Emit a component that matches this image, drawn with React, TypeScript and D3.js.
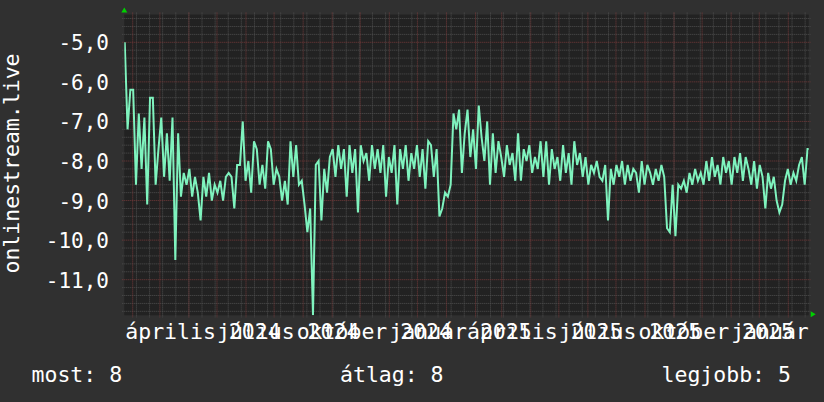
import React from "react";
import * as d3 from "d3";

// ---- data ----
const START = Date.UTC(2024, 0, 23, 12);
const STEP_DAYS = 3;
const values: number[] = [
  -5.0, -7.2, -6.2, -6.2, -8.6, -6.8, -8.2, -6.9, -9.1, -6.4,
  -6.4, -8.6, -7.7, -6.9, -8.4, -7.3, -8.5, -6.9, -10.5, -7.3,
  -8.9, -8.3, -8.6, -8.2, -8.9, -8.4, -8.8, -9.5, -8.4, -8.9,
  -8.3, -9.0, -8.6, -8.8, -8.5, -9.0, -8.4, -8.3, -8.4, -9.2,
  -8.1, -8.1, -7.0, -8.5, -8.0, -8.8, -7.5, -7.7, -8.6, -8.1,
  -8.7, -7.5, -7.7, -8.6, -8.2, -8.4, -9.0, -8.5, -9.1, -7.5,
  -8.4, -7.6, -8.6, -8.5, -9.1, -9.8, -9.2, -11.9, -8.1, -8.0,
  -9.5, -8.2, -8.8, -7.9, -7.7, -8.4, -7.6, -8.2, -7.7, -8.9,
  -7.6, -8.3, -7.7, -9.3, -7.6, -8.0, -7.8, -8.5, -7.6, -8.2,
  -7.7, -8.3, -7.6, -8.9, -7.9, -8.3, -7.6, -9.1, -7.7, -8.2,
  -7.6, -8.5, -7.8, -8.2, -7.6, -8.4, -7.7, -8.7, -7.5, -7.6,
  -8.4, -7.7, -9.4, -9.2, -8.8, -8.9, -8.6, -6.8, -7.2, -6.7,
  -8.3, -7.3, -6.7, -7.9, -7.2, -8.2, -6.6, -7.4, -8.0, -7.0,
  -8.6, -7.3, -8.3, -7.5, -7.9, -8.4, -7.6, -8.1, -7.8, -8.5,
  -7.3, -8.5, -7.7, -8.0, -7.6, -8.3, -7.9, -8.2, -7.5, -8.4,
  -7.5, -8.6, -7.7, -8.2, -7.9, -8.5, -7.6, -8.3, -7.8, -8.6,
  -7.5, -8.1, -7.8, -8.4, -7.9, -8.6, -8.1, -8.3, -8.0, -8.4,
  -8.5, -8.1, -9.5, -8.2, -8.6, -8.1, -8.4, -8.0, -8.6, -8.1,
  -8.5, -8.2, -8.3, -8.8, -8.0, -8.6, -8.1, -8.3, -8.6, -8.2,
  -8.5, -8.1, -8.4, -9.7, -9.8, -8.6, -9.9, -8.6, -8.7, -8.5,
  -8.8, -8.3, -8.6, -8.2, -8.5, -8.3, -8.6, -8.0, -8.5, -7.9,
  -8.4, -8.1, -8.6, -7.9, -8.3, -8.0, -8.6, -7.9, -8.3, -7.8,
  -8.5, -7.9, -8.2, -8.6, -8.0, -8.7, -8.1, -8.4, -9.2, -8.3,
  -8.7, -8.4, -9.0, -9.3, -9.1, -8.5, -8.2, -8.6, -8.3, -8.5,
  -8.1, -7.9, -8.6, -7.7, -7.7,
];
const yTicks = [-5, -6, -7, -8, -9, -10, -11];
const yTickLabels = ["-5,0", "-6,0", "-7,0", "-8,0", "-9,0", "-10,0", "-11,0"];
const labelMonths = [
  "április 2024", "július 2024", "október 2024", "január 2025",
  "április 2025", "július 2025", "október 2025", "január 2026",
];
const labelDates = [
  Date.UTC(2024, 3, 1), Date.UTC(2024, 6, 1), Date.UTC(2024, 9, 1), Date.UTC(2025, 0, 1),
  Date.UTC(2025, 3, 1), Date.UTC(2025, 6, 1), Date.UTC(2025, 9, 1), Date.UTC(2026, 0, 1),
];
const yTitle = "onlinestream.live";
const legend = ["most: 8", "átlag: 8", "legjobb: 5"];

const DAY = 86400000;

export default function App() {
  const W = 824, H = 402;
  const X0 = 124.3, X1 = 808.7, Y0 = 315.3, Y1 = 14.6;
  const x = d3.scaleUtc()
    .domain([new Date(Date.UTC(2024, 1, 1)), new Date(Date.UTC(2026, 0, 1))])
    .range([132.7, 788.3]);
  const y = d3.scaleLinear().domain([-11.9, -4.3]).range([Y0, Y1]);

  const pts = values.map((v, i) => ({ t: new Date(START + i * STEP_DAYS * DAY), v }));
  const line = d3.line<{ t: Date; v: number }>().x(d => x(d.t)).y(d => y(d.v));

  const tStart = x.invert(X0), tEnd = x.invert(X1);
  const months = d3.utcMonth.range(tStart, tEnd);
  // two-weekly minor grid on Mondays
  const anchor = Date.UTC(2025, 9, 13);
  const minorX: number[] = [];
  for (let t = anchor; t > tStart.getTime(); t -= 14 * DAY) minorX.push(x(new Date(t)));
  for (let t = anchor + 14 * DAY; t < tEnd.getTime(); t += 14 * DAY) minorX.push(x(new Date(t)));

  const minorY: number[] = [];
  for (let k = -59; k <= -22; k++) {
    const v = k / 5;
    if (Math.abs(v - Math.round(v)) > 1e-6) minorY.push(y(v));
  }

  const font = "'DejaVu Sans Mono', monospace";
  const minorColor = "#505050";
  const majorColor = "#763a3a";

  return (
    <svg width={W} height={H} style={{ display: "block", position: "absolute", left: 0, top: 0 }}>
      <defs>
        <clipPath id="plotclip">
          <rect x={X0} y={Y1} width={X1 - X0} height={Y0 - Y1} />
        </clipPath>
        <clipPath id="labelclip">
          <rect x={0} y={300} width={813} height={60} />
        </clipPath>
      </defs>
      <rect x={0} y={0} width={W} height={H} fill="#303030" />
      <rect x={X0} y={Y1} width={X1 - X0} height={Y0 - Y1} fill="#222222" />
      {minorY.map((yy, i) => (
        <line key={"hy" + i} x1={X0 - 2} x2={X1 + 2} y1={yy} y2={yy} stroke={minorColor} strokeWidth={1} strokeDasharray="1,1" />
      ))}
      {minorX.map((xx, i) => (
        <line key={"mx" + i} x1={xx} x2={xx} y1={Y1 - 2} y2={Y0 + 2} stroke={minorColor} strokeWidth={1} strokeDasharray="1,1" />
      ))}
      {months.map((m, i) => (
        <line key={"Mx" + i} x1={x(m)} x2={x(m)} y1={Y1 - 2} y2={Y0 + 2} stroke={majorColor} strokeWidth={1} strokeDasharray="1,1" />
      ))}
      {yTicks.map((v, i) => (
        <line key={"My" + i} x1={X0 - 2} x2={X1 + 2} y1={y(v)} y2={y(v)} stroke={majorColor} strokeWidth={1} strokeDasharray="1,1" />
      ))}
      <path d={line(pts) || ""} fill="none" stroke="#7ff3be" strokeWidth={2} strokeLinejoin="miter" clipPath="url(#plotclip)" />
      {/* arrows */}
      <polygon points={`${X0 - 3},${Y1 - 2} ${X0 + 3},${Y1 - 2} ${X0},${Y1 - 7}`} fill="#00d000" />
      <polygon points={`${X1 + 2},${Y0 - 4} ${X1 + 2},${Y0 + 2} ${X1 + 7},${Y0 - 1}`} fill="#00d000" />
      {yTicks.map((v, i) => (
        <text key={"yl" + i} x={109} y={y(v) + 8} textAnchor="end" fill="#ffffff" fontFamily={font} fontSize={21}>
          {yTickLabels[i]}
        </text>
      ))}
      <g clipPath="url(#labelclip)">
        {labelDates.map((t, i) => (
          <text key={"xl" + i} x={x(new Date(t + 15 * DAY))} y={338.5} textAnchor="middle" fill="#ffffff" fontFamily={font} fontSize={21.5}>
            {labelMonths[i]}
          </text>
        ))}
      </g>
      <text transform={`translate(18.5,163.5) rotate(-90)`} textAnchor="middle" fill="#ffffff" fontFamily={font} fontSize={21.5}>
        {yTitle}
      </text>
      <text x={31.5} y={381.7} fill="#ffffff" fontFamily={font} fontSize={21.5}>{legend[0]}</text>
      <text x={340} y={381.7} fill="#ffffff" fontFamily={font} fontSize={21.5}>{legend[1]}</text>
      <text x={661.5} y={381.7} fill="#ffffff" fontFamily={font} fontSize={21.5}>{legend[2]}</text>
    </svg>
  );
}
